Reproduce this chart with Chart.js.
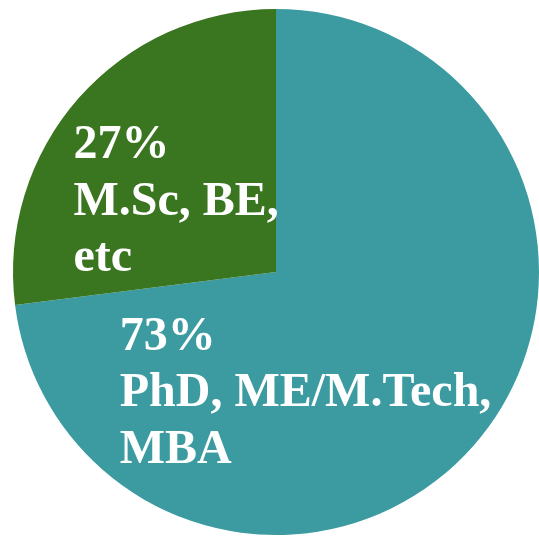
<!DOCTYPE html>
<html>
<head>
<meta charset="utf-8">
<script src="https://cdn.jsdelivr.net/npm/chart.js@4/dist/chart.umd.min.js"></script>
<style>
  html, body { margin: 0; padding: 0; background: #ffffff; }
  #wrap { width: 539px; height: 538px; }
</style>
</head>
<body>
<div id="wrap"><canvas id="c" width="539" height="538"></canvas></div>
<script>
// Data
const categories = ["PhD, ME/M.Tech, MBA", "M.Sc, BE, etc"];
const values = [73, 27];
const labelLines = [["PhD, ME/M.Tech,", "MBA"], ["M.Sc, BE,", "etc"]];
const colors = ["#3b9ba1", "#3a7520"];

// Label placement relative to pie centre, in units of radius
const labelAnchors = [
  { dx: -0.594, dy: 0.297 },
  { dx: -0.770, dy: -0.432 }
];

const labelPlugin = {
  id: 'sliceLabels',
  afterDatasetsDraw(chart) {
    const ctx = chart.ctx;
    const meta = chart.getDatasetMeta(0);
    const total = values.reduce((a, b) => a + b, 0);
    ctx.save();
    ctx.fillStyle = '#ffffff';
    ctx.font = 'bold 48px "Liberation Serif", "Times New Roman", serif';
    ctx.textAlign = 'left';
    ctx.textBaseline = 'alphabetic';
    meta.data.forEach((arc, i) => {
      const r = arc.outerRadius;
      const x0 = arc.x + labelAnchors[i].dx * r;
      const y0 = arc.y + labelAnchors[i].dy * r;
      const lh = 0.214 * r;
      const lines = [Math.round(values[i] / total * 100) + '%'].concat(labelLines[i]);
      lines.forEach((t, k) => ctx.fillText(t, x0, y0 + k * lh));
    });
    ctx.restore();
  }
};

new Chart(document.getElementById('c'), {
  type: 'pie',
  data: {
    labels: categories,
    datasets: [{
      data: values,
      backgroundColor: colors,
      borderWidth: 0
    }]
  },
  options: {
    responsive: false,
    devicePixelRatio: 1,
    animation: false,
    layout: { padding: { left: 13, right: 0, top: 8, bottom: 2 } },
    plugins: {
      legend: { display: false },
      tooltip: { enabled: false }
    }
  },
  plugins: [labelPlugin]
});
</script>
</body>
</html>
